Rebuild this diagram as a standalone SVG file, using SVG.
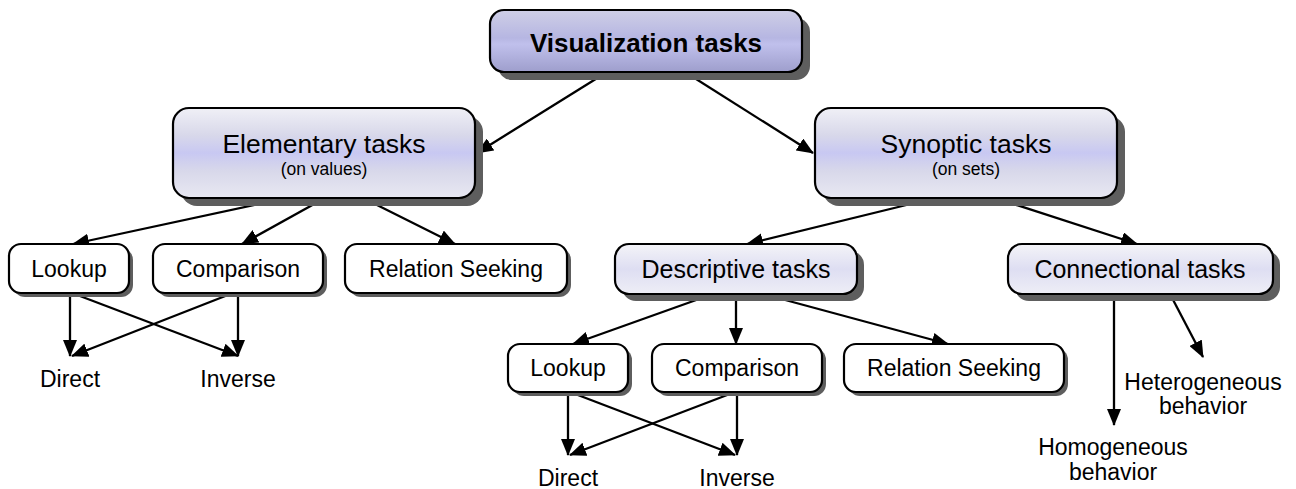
<svg xmlns="http://www.w3.org/2000/svg" width="1296" height="489" viewBox="0 0 1296 489">
<style>
  text { font-family: "Liberation Sans", Arial, sans-serif; fill: #000; text-anchor: middle; }
  .shadow { fill: #5e5e5e; }
  .box { stroke: #000; stroke-width: 2.2; }
  .plain { fill: #fff; }
  .big { fill: url(#gBig); }
  .top { fill: url(#gTop); }
  .mid { fill: url(#gMid); }
  .t-top { font-size: 26px; font-weight: bold; }
  .t-big { font-size: 26.5px; }
  .t-sub { font-size: 17.5px; }
  .t-mid { font-size: 25px; }
  .t-leaf { font-size: 23px; }
  .conn line { stroke: #000; stroke-width: 2.3; marker-end: url(#arr); }
</style>
<defs>
  <marker id="arr" markerUnits="userSpaceOnUse" markerWidth="17" markerHeight="14" refX="16" refY="7" orient="auto">
    <path d="M0,0 L17,7 L0,14 z" fill="#000"/>
  </marker>
  <linearGradient id="gTop" x1="0" y1="0" x2="0" y2="1">
    <stop offset="0" stop-color="#cfcfe6"/>
    <stop offset="0.45" stop-color="#b6b6e2"/>
    <stop offset="0.55" stop-color="#c0c0ec"/>
    <stop offset="1" stop-color="#9e9ecc"/>
  </linearGradient>
  <linearGradient id="gBig" x1="0" y1="0" x2="0" y2="1">
    <stop offset="0" stop-color="#f0f0f6"/>
    <stop offset="0.3" stop-color="#d8d8ea"/>
    <stop offset="0.5" stop-color="#c8c8f2"/>
    <stop offset="0.7" stop-color="#d8d8ea"/>
    <stop offset="1" stop-color="#e8e8f2"/>
  </linearGradient>
  <linearGradient id="gMid" x1="0" y1="0" x2="0" y2="1">
    <stop offset="0" stop-color="#f4f4f8"/>
    <stop offset="0.5" stop-color="#dedef2"/>
    <stop offset="1" stop-color="#eeeef6"/>
  </linearGradient>
</defs>

<g id="connectors" class="conn">
  <line x1="607" y1="72" x2="477" y2="153"/>
  <line x1="685" y1="72" x2="813" y2="153"/>
  <line x1="287" y1="198" x2="73" y2="244"/>
  <line x1="325" y1="198" x2="242" y2="244"/>
  <line x1="363" y1="198" x2="455" y2="244"/>
  <line x1="70" y1="293" x2="70" y2="356"/>
  <line x1="72" y1="293" x2="238" y2="356"/>
  <line x1="233" y1="293" x2="72" y2="356"/>
  <line x1="238" y1="293" x2="238" y2="356"/>
  <line x1="935" y1="198" x2="747" y2="244"/>
  <line x1="995" y1="198" x2="1137" y2="244"/>
  <line x1="713" y1="294" x2="573" y2="344"/>
  <line x1="736" y1="294" x2="736" y2="344"/>
  <line x1="763" y1="294" x2="948" y2="344"/>
  <line x1="568" y1="392" x2="568" y2="455"/>
  <line x1="570" y1="392" x2="735" y2="455"/>
  <line x1="735" y1="392" x2="570" y2="455"/>
  <line x1="737" y1="392" x2="737" y2="455"/>
  <line x1="1114" y1="294" x2="1114" y2="425"/>
  <line x1="1170" y1="294" x2="1203" y2="357"/>
</g>

<g id="node-visualization">
  <rect class="shadow" x="498" y="18" width="312" height="62" rx="14"/>
  <rect class="box top" x="490" y="10" width="312" height="62" rx="14"/>
  <text class="t-top" x="646" y="52">Visualization tasks</text>
</g>

<g id="node-elementary">
  <rect class="shadow" x="181" y="116" width="302" height="90" rx="16"/>
  <rect class="box big" x="173" y="108" width="302" height="90" rx="16"/>
  <text class="t-big" x="324" y="153">Elementary tasks</text>
  <text class="t-sub" x="324" y="175">(on values)</text>
</g>

<g id="node-synoptic">
  <rect class="shadow" x="823" y="116" width="302" height="90" rx="16"/>
  <rect class="box big" x="815" y="108" width="302" height="90" rx="16"/>
  <text class="t-big" x="966" y="153">Synoptic tasks</text>
  <text class="t-sub" x="966" y="175">(on sets)</text>
</g>

<g id="node-lookup1">
  <rect class="shadow" x="13" y="248" width="120" height="49" rx="12"/>
  <rect class="box plain" x="9" y="244" width="120" height="49" rx="12"/>
  <text class="t-leaf" x="69" y="277">Lookup</text>
</g>
<g id="node-comparison1">
  <rect class="shadow" x="157" y="248" width="170" height="49" rx="12"/>
  <rect class="box plain" x="153" y="244" width="170" height="49" rx="12"/>
  <text class="t-leaf" x="238" y="277">Comparison</text>
</g>
<g id="node-relation1">
  <rect class="shadow" x="349" y="248" width="222" height="49" rx="12"/>
  <rect class="box plain" x="345" y="244" width="222" height="49" rx="12"/>
  <text class="t-leaf" x="456" y="277">Relation Seeking</text>
</g>
<g id="node-direct1"><text class="t-leaf" x="70" y="387">Direct</text></g>
<g id="node-inverse1"><text class="t-leaf" x="238" y="387">Inverse</text></g>

<g id="node-descriptive">
  <rect class="shadow" x="622" y="251" width="242" height="50" rx="14"/>
  <rect class="box mid" x="615" y="244" width="242" height="50" rx="14"/>
  <text class="t-mid" x="736" y="278">Descriptive tasks</text>
</g>
<g id="node-connectional">
  <rect class="shadow" x="1015" y="251" width="265" height="50" rx="14"/>
  <rect class="box mid" x="1008" y="244" width="265" height="50" rx="14"/>
  <text class="t-mid" x="1140" y="278">Connectional tasks</text>
</g>

<g id="node-lookup2">
  <rect class="shadow" x="512" y="348" width="120" height="48" rx="12"/>
  <rect class="box plain" x="508" y="344" width="120" height="48" rx="12"/>
  <text class="t-leaf" x="568" y="376">Lookup</text>
</g>
<g id="node-comparison2">
  <rect class="shadow" x="656" y="348" width="170" height="48" rx="12"/>
  <rect class="box plain" x="652" y="344" width="170" height="48" rx="12"/>
  <text class="t-leaf" x="737" y="376">Comparison</text>
</g>
<g id="node-relation2">
  <rect class="shadow" x="848" y="348" width="220" height="48" rx="12"/>
  <rect class="box plain" x="844" y="344" width="220" height="48" rx="12"/>
  <text class="t-leaf" x="954" y="376">Relation Seeking</text>
</g>
<g id="node-direct2"><text class="t-leaf" x="568" y="486">Direct</text></g>
<g id="node-inverse2"><text class="t-leaf" x="737" y="486">Inverse</text></g>

<g id="node-heterogeneous">
  <text class="t-leaf" x="1203" y="390">Heterogeneous</text>
  <text class="t-leaf" x="1203" y="414">behavior</text>
</g>
<g id="node-homogeneous">
  <text class="t-leaf" x="1113" y="455">Homogeneous</text>
  <text class="t-leaf" x="1113" y="480">behavior</text>
</g>
</svg>
